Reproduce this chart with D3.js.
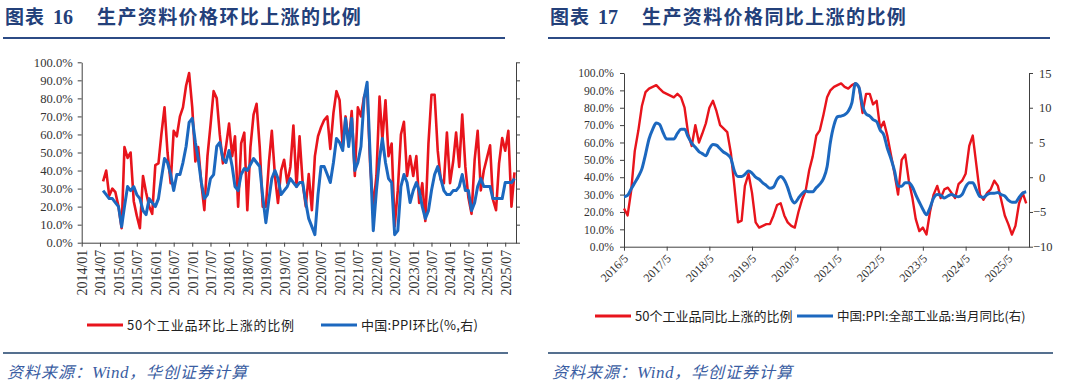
<!DOCTYPE html>
<html>
<head>
<meta charset="utf-8">
<script src="https://cdn.jsdelivr.net/npm/d3@7"></script>
<style>
    body { margin: 0; background: #fff; }
    svg { display: block; }
</style>
</head>
<body>
<svg width="1080" height="387"></svg>
<script>
// 图表16：月度，2014/08 - 2025/10
const momRed = [
    34, 40, 26, 30, 28,
    20, 8, 53, 47, 50, 23, 15, 8, 37, 28, 20, 16,
    43, 44, 60, 75, 50, 33, 62, 59, 70, 75, 87, 94,
    75, 45, 53, 33, 18, 48, 65, 84, 80, 60, 44, 53,
    66, 48, 59, 20, 55, 61, 18, 53, 71, 77, 53, 20,
    20, 45, 62, 37, 22, 40, 46, 33, 42, 65, 31, 59,
    33, 20, 38, 18, 48, 59, 64, 68, 70, 52, 72, 84,
    79, 53, 70, 55, 73, 37, 75, 70, 81, 85, 42, 20,
    37, 81, 57, 79, 48, 55, 9, 29, 60, 67, 37, 48,
    37, 48, 22, 33, 12, 55, 82, 82, 51, 35, 33, 61,
    33, 45, 61, 42, 71, 42, 25, 16, 46, 62, 29, 40,
    47, 54, 24, 18, 44, 58, 51, 62, 20, 39
]
// 中国:PPI环比(%)
const momBlue = [
    -0.2, -0.3, -0.4, -0.4, -0.5,
    -0.6, -1.1, -0.6, -0.1, -0.2, -0.1, -0.3, -0.4, -0.7, -0.8, -0.4, -0.5,
    -0.6, -0.4, 0.1, 0.6, 0.5, 0.2, -0.2, 0.2, 0.2, 0.5, 0.9, 1.5,
    1.6, 1.0, 0.6, 0.0, -0.4, -0.3, 0.1, 0.2, 0.9, 1.0, 0.6, 0.5,
    0.8, 0.4, -0.1, -0.2, 0.2, 0.35, 0.3, 0.45, 0.6, 0.5, 0.4, -0.35,
    -1.0, -0.4, 0.1, 0.3, 0.1, -0.3, -0.2, -0.1, 0.1, 0.0, -0.1, 0.0,
    0.0, -0.5, -0.9, -1.1, -1.3, -0.3, 0.4, 0.4, 0.2, 0.0, 0.5, 1.1,
    1.0, 0.8, 1.6, 0.9, 1.6, 0.3, 0.5, 0.9, 2.1, 2.5, 0.6, -1.2,
    -0.2, 0.6, 1.1, 0.5, 0.1, 0.0, -1.3, -1.2, -0.1, 0.2, 0.0, -0.5,
    -0.2, 0.0, -0.2, -0.6, -0.9, -0.7, -0.2, 0.2, 0.4, 0.1, -0.2, -0.3,
    -0.3, -0.2, -0.2, -0.1, 0.2, -0.2, -0.2, -0.7, -0.5, -0.1, 0.1, -0.1,
    -0.1, -0.1, -0.4, -0.4, -0.4, -0.4, 0.0, 0.0, 0.0, 0.1
]

// 图表17：月度，2016/05 - 2025/10
const yoyRed = [
    22, 18, 32, 55, 67, 81, 89, 91,
    92, 93, 91, 89, 88, 87, 86, 88, 86, 80, 65, 58,
    70, 60, 65, 71, 80, 84, 78, 70, 68, 66, 54, 35,
    14, 15, 35, 42, 31, 14, 11, 12, 13, 13, 18, 24,
    25, 18, 14, 12, 11, 20, 27, 32, 44, 52, 64, 67,
    76, 86, 90, 92, 93, 94, 92, 91, 93, 94, 92, 77,
    88, 88, 82, 84, 68, 72, 64, 53, 42, 30, 50, 53,
    38, 28, 16, 9, 11, 7, 20, 30, 35, 28, 33, 34,
    31, 28, 36, 38, 42, 58, 64, 47, 30, 27, 31, 33,
    38, 35, 27, 18, 13, 7, 12, 25, 31, 25
]
// 中国:PPI:全部工业品:当月同比(%)
const yoyBlue = [
    -2.8, -2.6, -1.7, -0.8, 0.1, 1.2, 3.3, 5.5,
    6.9, 7.8, 7.6, 6.4, 5.5, 5.5, 5.5, 6.3, 6.9, 6.9, 5.8, 4.9,
    4.3, 3.7, 3.4, 3.1, 4.1, 4.7, 4.6, 4.1, 3.6, 3.3, 2.7, 0.9,
    0.1, 0.1, 0.4, 0.9, 0.6, 0.0, -0.3, -0.8, -1.2, -1.6, -1.4, -0.4,
    0.1, -0.4, -1.5, -3.1, -3.7, -3.0, -2.4, -2.0, -2.1, -2.1, -1.5, -1.0,
    -0.2, 1.5, 5.0, 7.5, 8.7, 8.8, 9.0, 9.5, 10.7, 13.5, 12.9, 10.3,
    9.1, 8.8, 8.3, 8.0, 6.8, 6.1, 4.2, 2.7, 0.9, -1.3, -1.3, -0.8,
    -0.8, -1.4, -2.5, -3.6, -4.6, -5.4, -4.4, -3.0, -2.5, -2.6, -3.0, -2.7,
    -2.5, -2.7, -2.8, -2.5, -1.4, -0.8, -0.8, -1.8, -2.8, -2.9, -2.5, -2.3,
    -2.3, -2.2, -2.5, -2.7, -3.3, -3.6, -3.6, -2.9, -2.3, -2.1
]

const pctTicks = [0, 10, 20, 30, 40, 50, 60, 70, 80, 90, 100]
const yoyRightTicks = [-10, -5, 0, 5, 10, 15]
const yoyYears = [2016, 2017, 2018, 2019, 2020, 2021, 2022, 2023, 2024, 2025]
const momYears = [2014, 2015, 2016, 2017, 2018, 2019, 2020, 2021, 2022, 2023, 2024, 2025]

const titles = ['生产资料价格环比上涨的比例', '生产资料价格同比上涨的比例']
const legendMom = ['50个工业品环比上涨的比例', '中国:PPI环比(%,右)']
const legendYoy = ['50个工业品同比上涨的比例', '中国:PPI:全部工业品:当月同比(右)']

const RED = '#e8141c'
const BLUE = '#1c68bf'
const AXIS = '#404040'
const NAVY = '#23407a'
const SERIF = '"Liberation Serif", "DejaVu Serif", serif'
const CJK = '"Noto Sans CJK SC", sans-serif'

const svg = d3.select('svg')

// 标题、分隔线、来源
function frame(x0, num, title) {
    const t = svg.append('text')
        .attr('x', x0).attr('y', 24)
        .attr('fill', NAVY)
        .attr('font-weight', 'bold')
        .attr('font-size', 19)
    t.append('tspan').attr('font-family', CJK).attr('letter-spacing', 1).text('图表')
    t.append('tspan').attr('font-family', SERIF).attr('dx', 8).attr('font-size', 20).text(num)
    t.append('tspan').attr('x', x0 + 92).attr('font-family', CJK).attr('letter-spacing', 1.4).text(title)

    svg.append('line')
        .attr('x1', x0 - 2).attr('x2', x0 + 500).attr('y1', 38).attr('y2', 38)
        .attr('stroke', '#2c4b85').attr('stroke-width', 2)
    svg.append('line')
        .attr('x1', x0 - 2).attr('x2', x0 + 503).attr('y1', 353).attr('y2', 353)
        .attr('stroke', '#55708f').attr('stroke-width', 2)

    const s = svg.append('text')
        .attr('x', x0 + 2).attr('y', 378)
        .attr('fill', '#3a5da2')
        .attr('font-family', CJK)
        .attr('font-style', 'italic')
        .attr('font-size', 16)
        .attr('letter-spacing', 1)
    s.append('tspan').text('资料来源：')
    s.append('tspan').attr('font-family', SERIF).attr('font-size', 17).attr('letter-spacing', 0.5).text('Wind')
    s.append('tspan').text('，华创证券计算')
}

function legendItem(x, y, color, label, size, spacing) {
    svg.append('line')
        .attr('x1', x).attr('x2', x + 36).attr('y1', y).attr('y2', y)
        .attr('stroke', color).attr('stroke-width', 3)
    svg.append('text')
        .attr('x', x + 40).attr('y', y).attr('dy', '0.36em')
        .attr('fill', '#222')
        .attr('font-family', CJK)
        .attr('font-size', size)
        .attr('letter-spacing', spacing)
        .text(label)
}

function styleAxis(g, size) {
    g.selectAll('path, line').attr('stroke', AXIS)
    g.selectAll('text')
        .attr('fill', '#333')
        .attr('font-family', SERIF)
        .attr('font-size', size)
}

frame(5, '16', titles[0])
frame(550, '17', titles[1])

// ---------- 图表16 ----------
const momDates = momRed.map((d, i) => new Date(2014, 7 + i, 1))
const momTicks = momYears.flatMap(y => [new Date(y, 0, 1), new Date(y, 6, 1)])

const x1 = d3.scaleTime()
    .domain([new Date(2014, 0, 1), new Date(2025, 9, 16)])
    .range([81.7, 516])
const y1 = d3.scaleLinear().domain([0, 100]).range([242.7, 62.3])
const y1r = d3.scaleLinear().domain([-1.5, 3]).range([242.7, 62.3])

svg.append('g')
    .attr('transform', 'translate(81.7,0)')
    .call(d3.axisLeft(y1).tickValues(pctTicks).tickFormat(d => d.toFixed(1) + '%').tickSize(4).tickPadding(5).tickSizeOuter(0))
    .call(g => styleAxis(g, 12.6))

svg.append('g')
    .attr('transform', 'translate(516,0)')
    .call(d3.axisRight(y1r).tickValues(pctTicks.map(v => y1r.invert(y1(v)))).tickFormat('').tickSize(4).tickSizeOuter(0))
    .call(g => styleAxis(g, 12))

svg.append('g')
    .attr('transform', 'translate(0,242.7)')
    .call(d3.axisBottom(x1).tickValues(momTicks).tickFormat(d3.timeFormat('%Y/%m')).tickSize(4).tickSizeOuter(0))
    .call(g => styleAxis(g, 14))
    .call(g => g.selectAll('text')
        .attr('transform', 'rotate(-90)')
        .attr('text-anchor', 'end')
        .attr('x', -7).attr('y', 0).attr('dy', '0.35em'))

svg.append('path')
    .datum(momRed)
    .attr('fill', 'none')
    .attr('stroke', RED)
    .attr('stroke-width', 2.6)
    .attr('stroke-linejoin', 'round')
    .attr('d', d3.line().x((d, i) => x1(momDates[i])).y(d => y1(d)))

svg.append('path')
    .datum(momBlue)
    .attr('fill', 'none')
    .attr('stroke', BLUE)
    .attr('stroke-width', 3)
    .attr('stroke-linejoin', 'round')
    .attr('d', d3.line().x((d, i) => x1(momDates[i])).y(d => y1r(d)))

legendItem(87, 325, RED, legendMom[0], 13, 0.8)
legendItem(321, 325, BLUE, legendMom[1], 13, 0.3)

// ---------- 图表17 ----------
const yoyDates = yoyRed.map((d, i) => new Date(2016, 4 + i, 1))

const x2 = d3.scaleTime()
    .domain([new Date(2016, 4, 1), new Date(2025, 9, 25)])
    .range([624, 1029])
const y2 = d3.scaleLinear().domain([0, 100]).range([246.7, 73])
const y2r = d3.scaleLinear().domain([-10, 15]).range([246.7, 73])

svg.append('g')
    .attr('transform', 'translate(624,0)')
    .call(d3.axisLeft(y2).tickValues(pctTicks).tickFormat(d => d.toFixed(1) + '%').tickSize(4).tickPadding(6).tickSizeOuter(0))
    .call(g => styleAxis(g, 11.6))

svg.append('g')
    .attr('transform', 'translate(1029,0)')
    .call(d3.axisRight(y2r).tickValues(yoyRightTicks).tickSize(4).tickSizeOuter(0))
    .call(g => styleAxis(g, 12.5))
    .call(g => g.selectAll('text').attr('x', d => d < 0 ? 4 : 10))

svg.append('g')
    .attr('transform', 'translate(0,246.7)')
    .call(d3.axisBottom(x2).tickValues(yoyYears.map(y => new Date(y, 4, 1))).tickFormat(d3.timeFormat('%Y/%-m')).tickSize(4).tickSizeOuter(0))
    .call(g => styleAxis(g, 12))
    .call(g => g.selectAll('text')
        .attr('text-anchor', 'end')
        .attr('x', 0).attr('y', 0).attr('dy', '0.3em')
        .attr('transform', 'translate(2,10) rotate(-45)'))

svg.append('path')
    .datum(yoyRed)
    .attr('fill', 'none')
    .attr('stroke', RED)
    .attr('stroke-width', 2.4)
    .attr('stroke-linejoin', 'round')
    .attr('d', d3.line().x((d, i) => x2(yoyDates[i])).y(d => y2(d)))

svg.append('path')
    .datum(yoyBlue)
    .attr('fill', 'none')
    .attr('stroke', BLUE)
    .attr('stroke-width', 3)
    .attr('d', d3.line().curve(d3.curveMonotoneX).x((d, i) => x2(yoyDates[i])).y(d => y2r(d)))

legendItem(595, 316, RED, legendYoy[0], 13, 0)
legendItem(797, 316, BLUE, legendYoy[1], 12.5, 0)
</script>
</body>
</html>
